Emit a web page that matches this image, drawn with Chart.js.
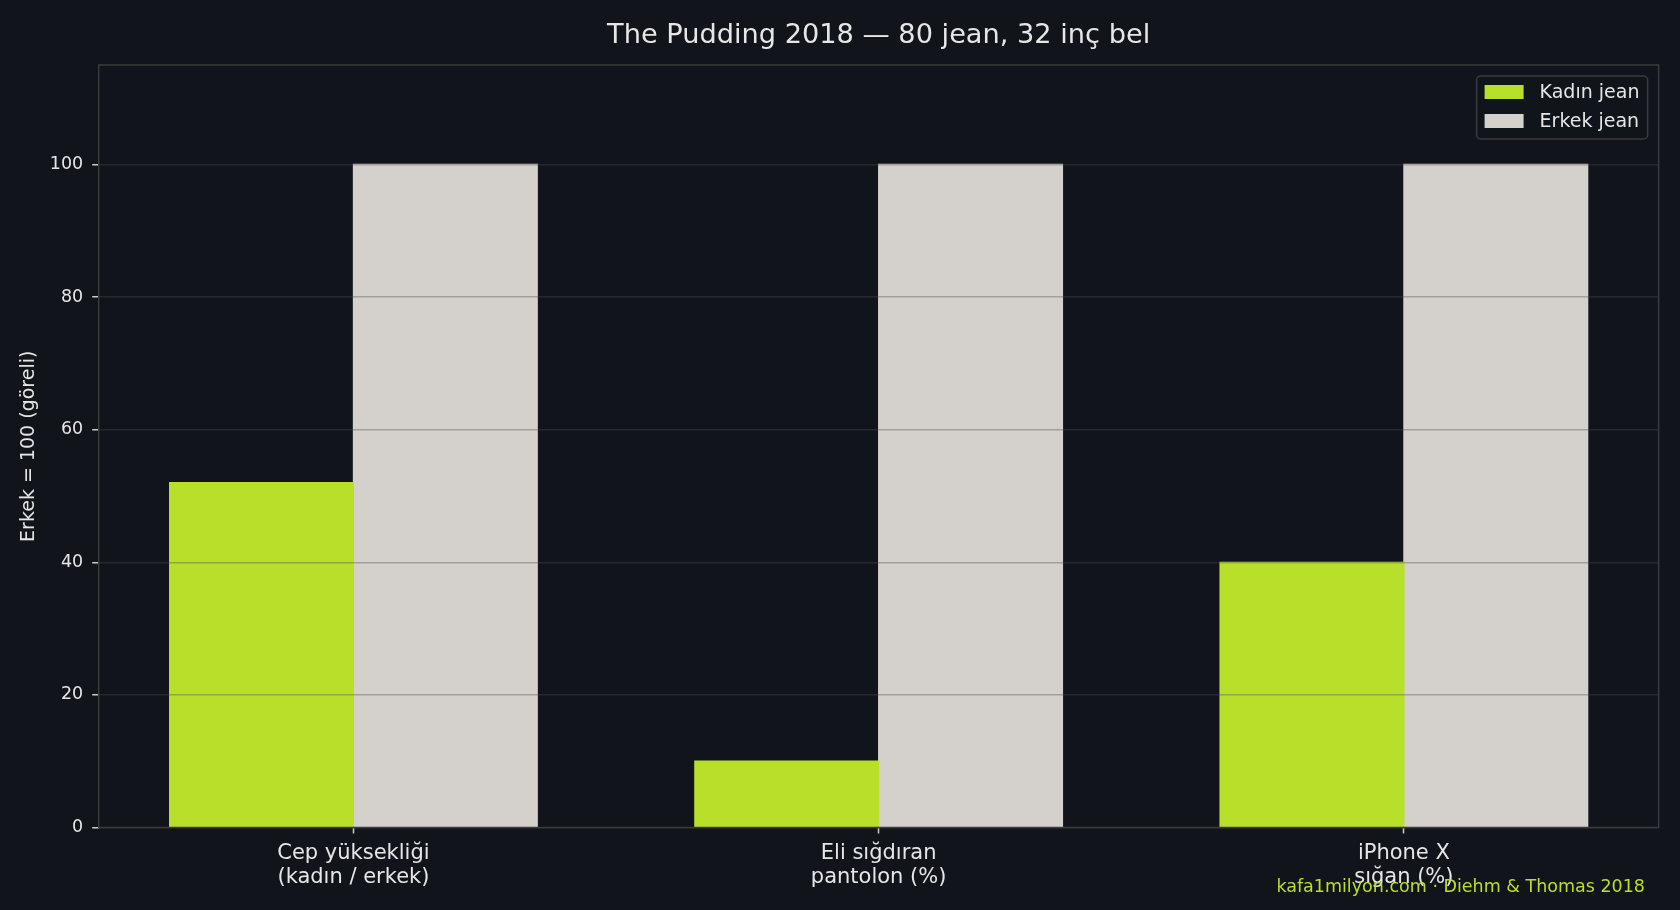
<!DOCTYPE html>
<html lang="tr">
<head>
<meta charset="utf-8">
<title>The Pudding 2018 — 80 jean, 32 inç bel</title>
<script src="https://cdn.jsdelivr.net/npm/chart.js@4.4.1/dist/chart.umd.min.js"></script>
<style>
  html, body { margin: 0; padding: 0; background: #11141b; }
  #wrap { width: 1680px; height: 910px; }
</style>
</head>
<body>
<div id="wrap"><canvas id="chart" width="1680" height="910"></canvas></div>
<script>
// Data
const categories = [
  ['Cep yüksekliği', '(kadın / erkek)'],
  ['Eli sığdıran', 'pantolon (%)'],
  ['iPhone X', 'sığan (%)']
];
const kadinJean = [52, 10, 40];
const erkekJean = [100, 100, 100];
const yTicks = [0, 20, 40, 60, 80, 100];
const seriesNames = ['Kadın jean', 'Erkek jean'];

const BG = '#11141b';
const GREEN = '#b8e02a';
const LIGHT = '#d4d1cc';
const TEXT = '#e6e6e6';
const FONT = "'DejaVu Sans', 'Noto Sans', sans-serif";

Chart.defaults.font.family = FONT;
Chart.defaults.color = TEXT;

// background, frame, title, legend and credit line
const decor = {
  id: 'decor',
  beforeDraw(chart) {
    const ctx = chart.ctx;
    ctx.save();
    ctx.fillStyle = BG;
    ctx.fillRect(0, 0, chart.width, chart.height);
    ctx.restore();
  },
  afterDraw(chart) {
    const ctx = chart.ctx;
    const a = chart.chartArea;
    ctx.save();

    // axes frame
    ctx.strokeStyle = '#3a3b3d';
    ctx.lineWidth = 1.5;
    ctx.strokeRect(a.left, a.top, a.right - a.left, a.bottom - a.top);

    // title, centred on the plot area
    ctx.fillStyle = TEXT;
    ctx.font = '27.2px ' + FONT;
    ctx.textAlign = 'center';
    ctx.textBaseline = 'middle';
    ctx.fillText('The Pudding 2018 — 80 jean, 32 inç bel', (a.left + a.right) / 2, 35.5);

    // legend box in the upper right corner
    const bx = a.right - 11, by = a.top + 11;
    const bw = 171, bh = 63;
    ctx.fillStyle = 'rgba(17,20,27,0.85)';
    ctx.strokeStyle = '#3a3b3d';
    ctx.lineWidth = 1.5;
    ctx.beginPath();
    ctx.roundRect(bx - bw, by, bw, bh, 4);
    ctx.fill();
    ctx.stroke();
    ctx.font = '19px ' + FONT;
    ctx.textAlign = 'left';
    ctx.textBaseline = 'middle';
    chart.data.datasets.forEach((ds, i) => {
      const sy = by + 9 + i * 29;
      ctx.fillStyle = ds.backgroundColor;
      ctx.fillRect(bx - bw + 8, sy, 39, 14);
      ctx.fillStyle = TEXT;
      ctx.fillText(ds.label, bx - bw + 63, sy + 8);
    });

    // credit line
    ctx.fillStyle = GREEN;
    ctx.font = '17.5px ' + FONT;
    ctx.textAlign = 'right';
    ctx.textBaseline = 'alphabetic';
    ctx.fillText('kafa1milyon.com · Diehm & Thomas 2018', 1645, 892);

    ctx.restore();
  }
};

const ctx = document.getElementById('chart').getContext('2d');
new Chart(ctx, {
  type: 'bar',
  data: {
    datasets: [
      {
        label: seriesNames[0],
        data: kadinJean.map((v, i) => ({ x: i, y: v })),
        backgroundColor: GREEN,
        borderWidth: 0,
        inflateAmount: 0.6
      },
      {
        label: seriesNames[1],
        data: erkekJean.map((v, i) => ({ x: i, y: v })),
        backgroundColor: LIGHT,
        borderWidth: 0,
        inflateAmount: 0.6
      }
    ]
  },
  options: {
    responsive: false,
    animation: false,
    devicePixelRatio: 1,
    categoryPercentage: 0.7,
    barPercentage: 1.0,
    layout: { padding: { top: 65, right: 21.4, bottom: 0, left: 0 } },
    plugins: {
      legend: { display: false },
      title: { display: false },
      tooltip: { enabled: false }
    },
    scales: {
      x: {
        type: 'linear',
        min: -0.485,
        max: 2.485,
        offset: false,
        afterBuildTicks: scale => { scale.ticks = categories.map((c, i) => ({ value: i })); },
        afterFit: scale => { scale.height = 82.5; },
        ticks: {
          color: TEXT,
          font: { size: 21, lineHeight: 1.15 },
          padding: 7.5,
          maxRotation: 0,
          autoSkip: false,
          callback: v => categories[v]
        },
        grid: {
          offset: false,
          drawOnChartArea: false,
          drawTicks: true,
          tickLength: 6,
          tickColor: '#cccccc',
          tickWidth: 1.5
        },
        border: { display: false }
      },
      y: {
        min: 0,
        max: 115,
        afterBuildTicks: scale => { scale.ticks = yTicks.map(v => ({ value: v })); },
        afterFit: scale => { scale.width = 98.7; },
        ticks: {
          color: TEXT,
          font: { size: 17.5 },
          padding: 9
        },
        grid: {
          z: 1,
          color: 'rgba(75,75,75,0.37)',
          lineWidth: 1.5,
          drawTicks: true,
          tickLength: 6.5,
          tickColor: '#cccccc',
          tickWidth: 1.5
        },
        border: { display: false },
        title: {
          display: true,
          text: 'Erkek = 100 (göreli)',
          color: TEXT,
          font: { size: 19 },
          padding: { top: 18, bottom: 0 }
        }
      }
    }
  },
  plugins: [decor]
});
</script>
</body>
</html>
